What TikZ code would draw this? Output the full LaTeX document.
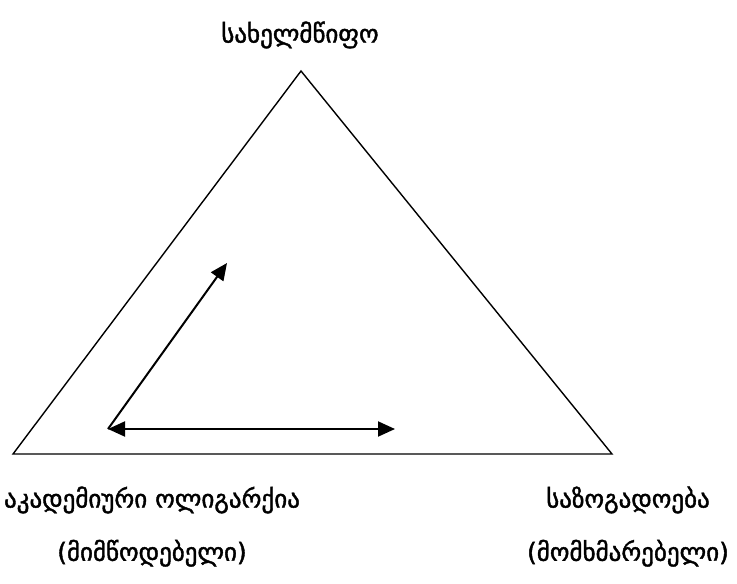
\documentclass[tikz,border=0pt]{standalone}
\usepackage{fontspec}
\setmainfont{DejaVu Sans}
\newfontfamily\geofont[RawFeature={embolden=1.6}]{DejaVu Sans}
\usepackage{tikz}
\usetikzlibrary{arrows.meta,positioning}

\begin{document}
\begin{tikzpicture}[
  x=1pt, y=-1pt,
  font=\geofont\fontsize{25}{29}\selectfont,
  every node/.style={align=center, inner sep=0pt},
  edge/.style={line width=1.4pt},
  arr/.style={-{Triangle[length=17pt,width=15pt]}, line width=2pt},
  darr/.style={{Triangle[length=17pt,width=15pt]}-{Triangle[length=17pt,width=15pt]}, line width=2pt}
]
\useasboundingbox (0,0) rectangle (737,584);

% triangle corners
\coordinate (top) at (301,71);
\coordinate (left) at (13,454);
\coordinate (right) at (612,454);
\draw[edge, line join=miter] (top) -- (left) -- (right) -- cycle;

% inner arrows
\coordinate (origin) at (108,429);
\coordinate (up) at (227,263);
\coordinate (along) at (395,429);
\draw[arr] (origin) -- (up);
\draw[darr] (origin) -- (along);

% labels
\node (state) at (300,35) {სახელმწიფო};
\node (academy) at (152,500) {აკადემიური ოლიგარქია};
\node[below=26pt of academy.south, anchor=north] (supplier) {(მიმწოდებელი)};
\node (society) at (628,500) {საზოგადოება};
\node[below=26pt of society.south, anchor=north] (consumer) {(მომხმარებელი)};

\end{tikzpicture}
\end{document}
